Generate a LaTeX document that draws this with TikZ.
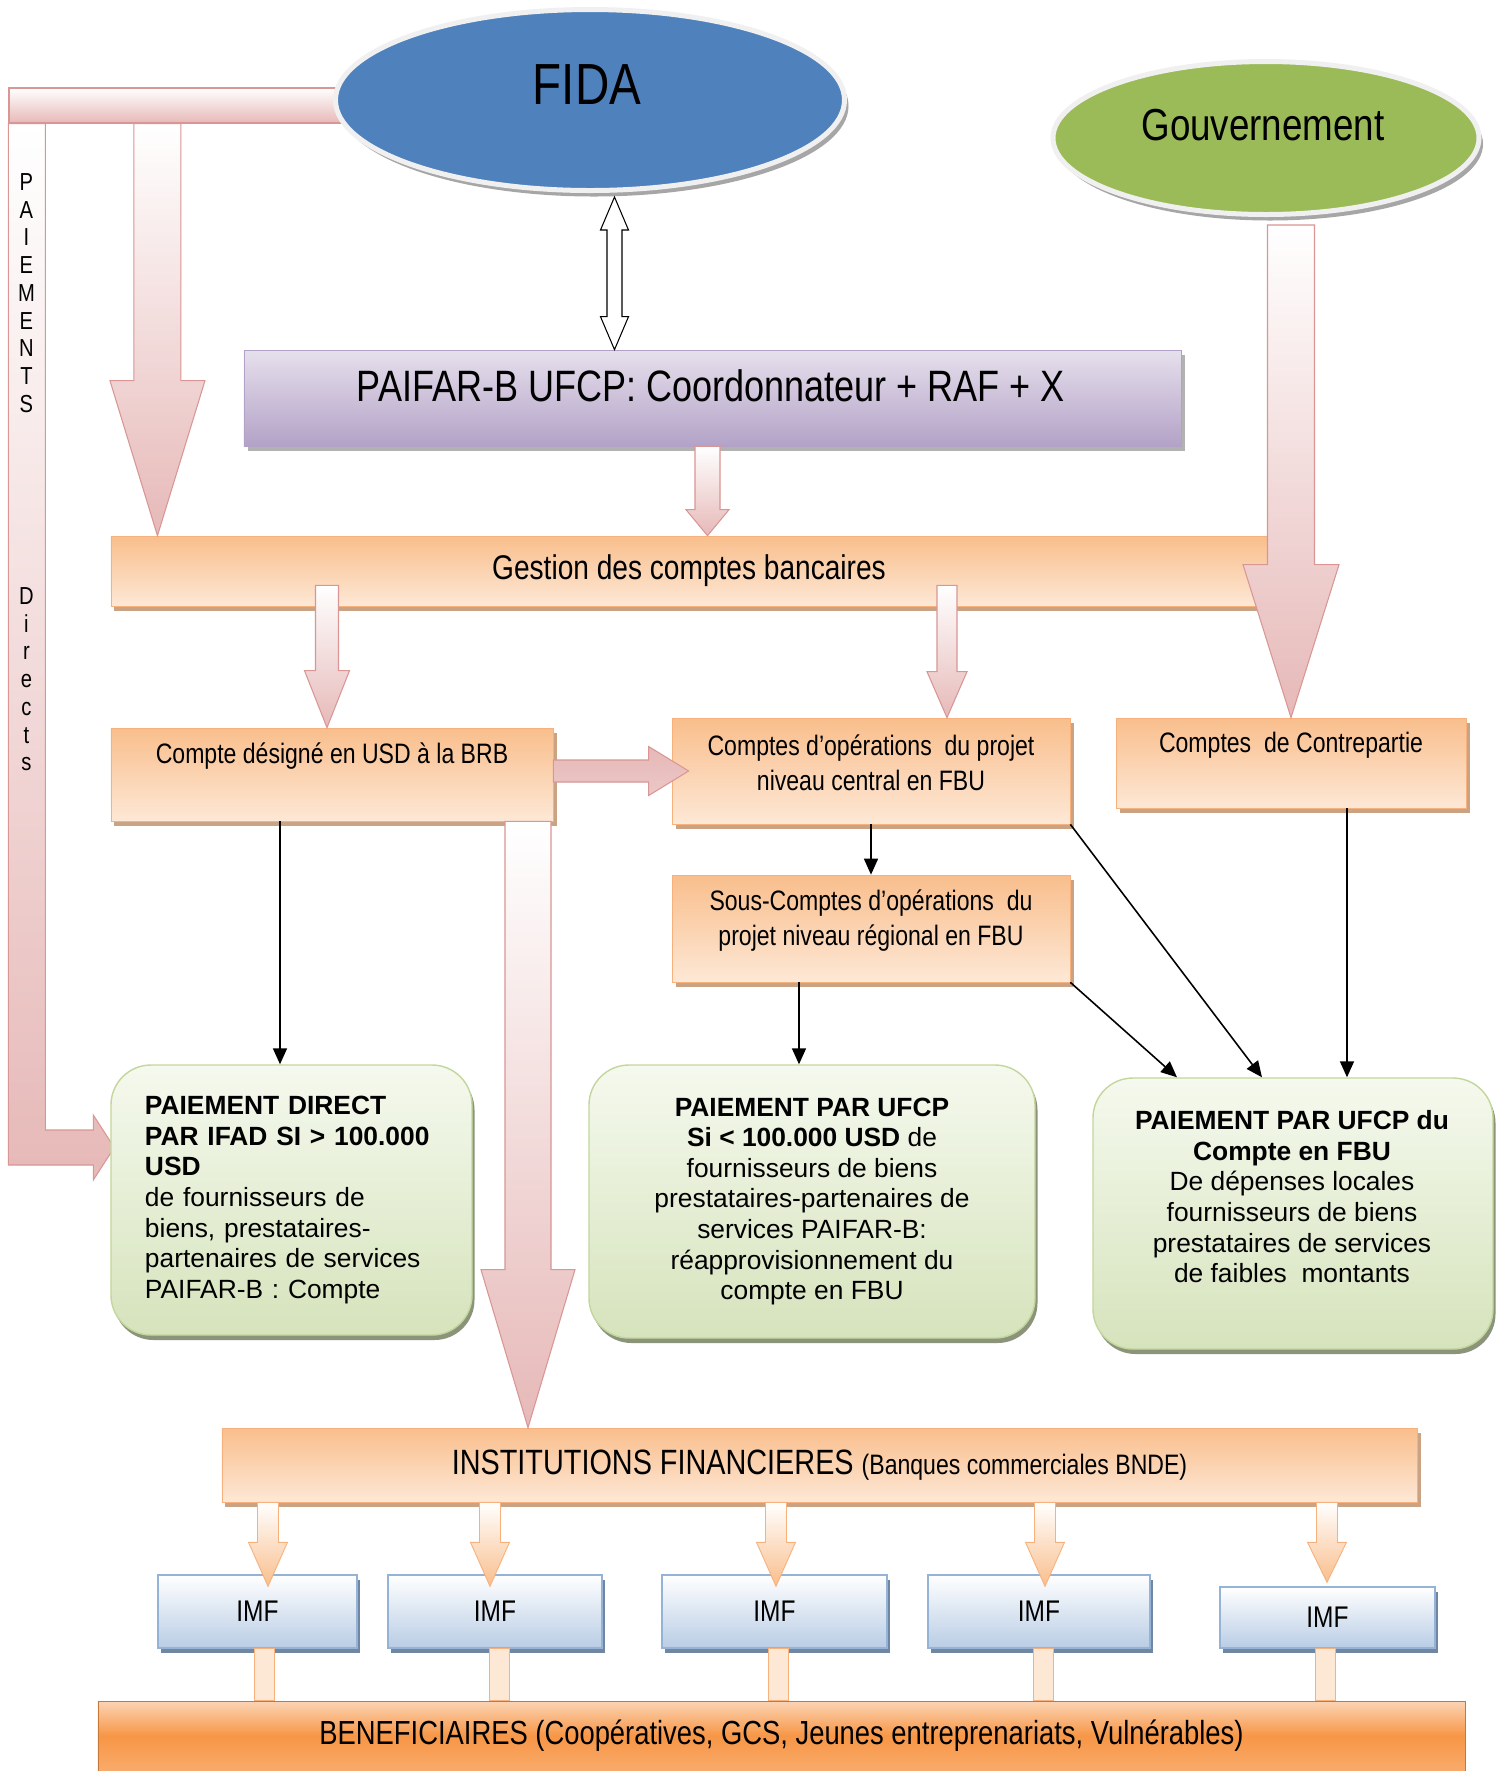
\documentclass[tikz,border=0pt]{standalone}
\usepackage{fontspec}
\setmainfont{Liberation Sans}
\newfontfamily\narrowfont[FakeStretch=0.82]{Liberation Sans}
\usepackage{tikz}
\usetikzlibrary{
  shapes.geometric, arrows.meta, positioning, calc,
  backgrounds, shadows
}
\usepackage{xcolor}
\definecolor{fidablue}{HTML}{4F81BD}
\definecolor{govgreen}{HTML}{9BBB59}
\definecolor{flowpink}{HTML}{E6B9B8}
\definecolor{flowpinkedge}{HTML}{D99694}
\definecolor{orangetop}{HTML}{F9BE8C}
\definecolor{orangelow}{HTML}{FDE8D6}
\definecolor{orangeedge}{HTML}{F6B17D}
\definecolor{orangeshade}{HTML}{C9A383}
\definecolor{beneftop}{HTML}{FBD4B4}
\definecolor{benefmid}{HTML}{F79646}
\definecolor{purpletop}{HTML}{E6E0EC}
\definecolor{purplelow}{HTML}{B3A2C7}
\definecolor{greentop}{HTML}{F5F9EE}
\definecolor{greenlow}{HTML}{D6E3BC}
\definecolor{greenedge}{HTML}{C3D69B}
\definecolor{imfblue}{HTML}{B9CDE5}
\definecolor{imfedge}{HTML}{95B3D7}

\def\pxu{0.2mm}

\tikzset{
  bigarrow/.style={draw=flowpinkedge, line width=0.6pt, top color=white, bottom color=flowpink},
  pinkbar/.style={bigarrow},
  midpink/.style={top color=flowpink, middle color=white!60!flowpink, bottom color=flowpink!80},
  imfarrow/.style={draw=orangeedge, line width=0.5pt, top color=white, bottom color=orangetop},
  imfstem/.style={draw=orangeedge, line width=0.5pt, fill=orangelow},
  dblarrow/.style={draw=black, line width=0.6pt, fill=white},
  bubble/.style={ellipse, draw=gray!12, line width=1mm,
    drop shadow={shadow xshift=0.8mm, shadow yshift=-1.2mm, fill=gray!70, opacity=1}},
  purplebox/.style={rectangle, draw=purplelow, line width=0.4pt, top color=purpletop, bottom color=purplelow,
    drop shadow={shadow xshift=0.8mm, shadow yshift=-1mm, fill=gray!60, opacity=1}},
  orangebox/.style={rectangle, draw=orangeedge, line width=0.4pt, top color=orangetop, bottom color=orangelow,
    drop shadow={shadow xshift=0.7mm, shadow yshift=-0.9mm, fill=orangeshade, opacity=1}},
  orangetext/.style={font=\narrowfont\fontsize{16}{19.5}\selectfont, align=center},
  greenbox/.style={rectangle, rounded corners=8mm, draw=greenedge, line width=0.8pt, top color=greentop, bottom color=greenlow,
    drop shadow={shadow xshift=0.5mm, shadow yshift=-1mm, fill=black!35!greenlow, opacity=1},
    font=\fontsize{15}{17.4}\selectfont},
  greentext/.style={font=\fontsize{15}{17.4}\selectfont, align=center},
  benefbox/.style={rectangle, draw=benefmid!80!black, line width=0.4pt, top color=beneftop, bottom color=benefmid!80!white, middle color=benefmid,
    font=\narrowfont\fontsize{19}{23}\selectfont},
  imfbox/.style={rectangle, draw=imfedge, line width=0.8pt, top color=white, bottom color=imfblue,
    drop shadow={shadow xshift=0.6mm, shadow yshift=-1mm, fill=imfedge!75!black, opacity=1},
    font=\narrowfont\fontsize{17}{20}\selectfont},
  letters/.style={font=\narrowfont\fontsize{14}{15.8}\selectfont, align=center, inner sep=0pt},
  thinarr/.style={line width=0.9pt, -{Triangle[length=3.2mm,width=2.8mm]}}
}

% block arrow going down: [style]{from}{to}{shaft half}{head half}{head length}, sizes in px
\newcommand{\flowdown}[6][]{%
  \path[bigarrow,#1] let \p1=(#2), \p2=(#3) in
    (\x1-#4*\pxu,\y1) -- (\x1+#4*\pxu,\y1) -- (\x1+#4*\pxu,\y2+#6*\pxu)
    -- (\x1+#5*\pxu,\y2+#6*\pxu) -- (\x1,\y2) -- (\x1-#5*\pxu,\y2+#6*\pxu)
    -- (\x1-#4*\pxu,\y2+#6*\pxu) -- cycle;}
% block arrow going right
\newcommand{\flowright}[6][]{%
  \path[bigarrow,#1] let \p1=(#2), \p2=(#3) in
    (\x1,\y1+#4*\pxu) -- (\x2-#6*\pxu,\y1+#4*\pxu) -- (\x2-#6*\pxu,\y1+#5*\pxu)
    -- (\x2,\y1) -- (\x2-#6*\pxu,\y1-#5*\pxu) -- (\x2-#6*\pxu,\y1-#4*\pxu)
    -- (\x1,\y1-#4*\pxu) -- cycle;}
% stem only
\newcommand{\flowstem}[4][]{%
  \path[#1] let \p1=(#2), \p2=(#3) in (\x1-#4*\pxu,\y1) rectangle (\x1+#4*\pxu,\y2);}

\begin{document}
\begin{tikzpicture}[x=0.2mm, y=-0.2mm]
  \useasboundingbox (0,0) rectangle (1503,1771);

  % Top bar of the direct payments
  \node[pinkbar, minimum width=67.2mm, minimum height=7mm] (topbar) at (177,105.5) {};

  % Partners
  \node[bubble, fill=fidablue, minimum width=101.8mm, minimum height=36.2mm] (fida) at (590,100) {};
  \node[font=\narrowfont\fontsize{33}{36}\selectfont] (fidatext) at ($(fida)+(-3,-15)$) {FIDA};
  \node[bubble, fill=govgreen, minimum width=85.2mm, minimum height=30.6mm] (gouv) at (1266,138) {};
  \node[font=\narrowfont\fontsize{25.5}{30}\selectfont] (gouvtext) at ($(gouv)+(-3,-13)$) {Gouvernement};

  % Coordination unit
  \node[purplebox, minimum width=187.4mm, minimum height=19.2mm] (paifar) at (712.5,398) {};
  \node[font=\narrowfont\fontsize{25}{30}\selectfont] (paifartext) at ($(paifar)+(-1.5,-12)$) {PAIFAR-B UFCP: Coordonnateur + RAF + X};
  \path[dblarrow] let \p1=($(fida.south)+(24.5,4)$), \p2=(paifar.north) in
    (\x1,\y1) -- (\x1+14*\pxu,\y1-33*\pxu) -- (\x1+7.5*\pxu,\y1-33*\pxu)
    -- (\x1+7.5*\pxu,\y2+33*\pxu) -- (\x1+14*\pxu,\y2+33*\pxu) -- (\x1,\y2)
    -- (\x1-14*\pxu,\y2+33*\pxu) -- (\x1-7.5*\pxu,\y2+33*\pxu)
    -- (\x1-7.5*\pxu,\y1-33*\pxu) -- (\x1-14*\pxu,\y1-33*\pxu) -- cycle;

  % Bank accounts
  \node[orangebox, minimum width=231.2mm, minimum height=14mm, font=\narrowfont\fontsize{19.5}{23}\selectfont] (gestion) at (689,571) {Gestion des comptes bancaires};
  \flowdown{$(topbar.south west)+(149,0)$}{gestion.north}{23.5}{47.5}{155}
  \flowdown{$(paifar.south)+(-5,0)$}{gestion.north}{12.5}{21.5}{26}

  \node[orangebox, minimum width=88.4mm, minimum height=18.6mm] (designe) at (332,774.5) {};
  \node[orangetext] (designetext) at ($(designe.north)+(0,28)$) {Compte désigné en USD à la BRB};
  \node[orangebox, minimum width=79.6mm, minimum height=21.2mm] (compop) at (871,771) {};
  \node[orangetext] (compoptext) at ($(compop.north)+(0,45)$) {Comptes d’opérations\ \ du projet\\niveau central en FBU};
  \node[orangebox, minimum width=70mm, minimum height=18mm] (contrep) at (1291,763) {};
  \node[orangetext] (contreptext) at ($(contrep.north)+(0,28)$) {Comptes\ \ de Contrepartie};
  \node[orangebox, minimum width=79.6mm, minimum height=21.4mm] (souscomp) at (871,928.5) {};
  \node[orangetext] (souscomptext) at ($(souscomp.north)+(0,46)$) {Sous-Comptes d’opérations\ \ du\\projet niveau régional en FBU};

  \flowdown{$(contrep.north |- gouv.south)+(0,8)$}{contrep.north}{23.5}{48}{153}
  \flowdown{$(gestion.south)+(-362,-21)$}{designe.north}{11.5}{22.5}{57}
  \flowdown{$(gestion.south)+(258,-21)$}{compop.north}{10}{20}{46}
  \flowright[midpink]{$(designe.east)+(0,-3.5)$}{$(compop.west)+(17,0)$}{11}{24.5}{40}

  % Payments
  \node[greenbox, minimum width=72.2mm, minimum height=54mm, text width=58.6mm, align=left] (direct) at (291.5,1200)
    {\textbf{PAIEMENT DIRECT}\\\textbf{PAR IFAD SI > 100.000}\\\textbf{USD}\\de fournisseurs de\\biens, prestataires-\\partenaires de services\\PAIFAR-B : Compte};
  \node[greenbox, minimum width=89.2mm, minimum height=54.6mm, align=center] (ufcp) at (812,1201.5)
    {\textbf{PAIEMENT PAR UFCP}\\\textbf{Si < 100.000 USD} de\\fournisseurs de biens\\prestataires-partenaires de\\services PAIFAR-B:\\réapprovisionnement du\\compte en FBU};
  \node[greenbox, minimum width=80mm, minimum height=54.2mm] (ufcpfbu) at (1293,1213.5) {};
  \node[greentext] (ufcpfbutext) at ($(ufcpfbu.north)+(-1,119.5)$)
    {\textbf{PAIEMENT PAR UFCP du}\\\textbf{Compte en FBU}\\De dépenses locales\\fournisseurs de biens\\prestataires de services\\de faibles\ \ montants};

  \draw[thinarr] ($(designe.south)+(-52,0)$) -- ($(direct.north)+(-11.5,0)$);
  \draw[thinarr] (compop.south) -- (souscomp.north);
  \draw[thinarr] ($(souscomp.south)+(-72,0)$) -- ($(ufcp.north)+(-13,0)$);
  \draw[thinarr] (souscomp.south east) -- ($(ufcpfbu.north)+(-116,0)$);
  \draw[thinarr] (compop.south east) -- ($(ufcpfbu.north)+(-31,0)$);
  \draw[thinarr] ($(contrep.south)+(56,0)$) -- ($(ufcpfbu.north)+(54,0)$);

  % Financial institutions
  \node[orangebox, minimum width=239mm, minimum height=14.8mm, font=\narrowfont\fontsize{20}{24}\selectfont] (inst) at (819.5,1465)
    {INSTITUTIONS FINANCIERES {\fontsize{16}{19}\selectfont(Banques commerciales BNDE)}};
  \flowdown{$(designe.south)+(196,0)$}{inst.north}{23}{47}{158}

  \node[imfbox, minimum width=39.8mm, minimum height=14.6mm] (imf1) at (257.5,1611.5) {IMF};
  \node[imfbox, minimum width=42.8mm, minimum height=14.6mm] (imf2) at (495,1611.5) {IMF};
  \node[imfbox, minimum width=45mm, minimum height=14.6mm] (imf3) at (774.5,1611.5) {IMF};
  \node[imfbox, minimum width=44.4mm, minimum height=14.6mm] (imf4) at (1039,1611.5) {IMF};
  \node[imfbox, minimum width=43mm, minimum height=12.2mm] (imf5) at (1327.5,1617.5) {IMF};

  \flowdown[imfarrow]{$(imf1.north |- inst.south)+(10.5,0)$}{$(imf1.north)+(0,12)$}{10.5}{19.5}{44}
  \flowdown[imfarrow]{$(imf2.north |- inst.south)+(-5,0)$}{$(imf2.north)+(0,12)$}{10.5}{19.5}{44}
  \flowdown[imfarrow]{$(imf3.north |- inst.south)+(1.5,0)$}{$(imf3.north)+(0,12)$}{10.5}{19.5}{44}
  \flowdown[imfarrow]{$(imf4.north |- inst.south)+(6,0)$}{$(imf4.north)+(0,12)$}{10.5}{19.5}{44}
  \flowdown[imfarrow]{$(imf5.north |- inst.south)+(-0.5,0)$}{$(imf5.north)+(0,-4)$}{10.5}{19.5}{40}

  % Beneficiaries
  \node[benefbox, minimum width=273.4mm, minimum height=14mm] (benef) at (781.5,1736)
    {BENEFICIAIRES (Coopératives, GCS, Jeunes entreprenariats, Vulnérables)};
  \flowstem[imfstem]{$(imf1.south)+(6.5,0)$}{benef.north}{10}
  \flowstem[imfstem]{$(imf2.south)+(4,0)$}{benef.north}{10}
  \flowstem[imfstem]{$(imf3.south)+(3.5,0)$}{benef.north}{10}
  \flowstem[imfstem]{$(imf4.south)+(4,0)$}{benef.north}{10}
  \flowstem[imfstem]{$(imf5.south)+(-2.5,0)$}{benef.north}{10}

  % Direct payments bar, behind everything
  \begin{scope}[on background layer]
    \fill[white] (0,0) rectangle (1503,1771);
    \coordinate (armtip) at ($(direct.west)+(4,-52.5)$);
    \path[pinkbar] let \p1=(topbar.south west), \p2=(armtip) in
      (\x1,\y1) -- (\x1+37*\pxu,\y1) -- (\x1+37*\pxu,\y2+17.5*\pxu)
      -- (\x2-21*\pxu,\y2+17.5*\pxu) -- (\x2-21*\pxu,\y2+32.5*\pxu) -- (\x2,\y2)
      -- (\x2-21*\pxu,\y2-32.5*\pxu) -- (\x2-21*\pxu,\y2-17.5*\pxu)
      -- (\x1,\y2-17.5*\pxu) -- cycle;
  \end{scope}
  \node[letters, anchor=north] (paiements) at ($(topbar.south west)+(18,49.5)$) {P\\A\\I\\E\\M\\E\\N\\T\\S};
  \node[letters, anchor=north] (directs) at ($(topbar.south west)+(18,463.5)$) {D\\i\\r\\e\\c\\t\\s};
\end{tikzpicture}
\end{document}
